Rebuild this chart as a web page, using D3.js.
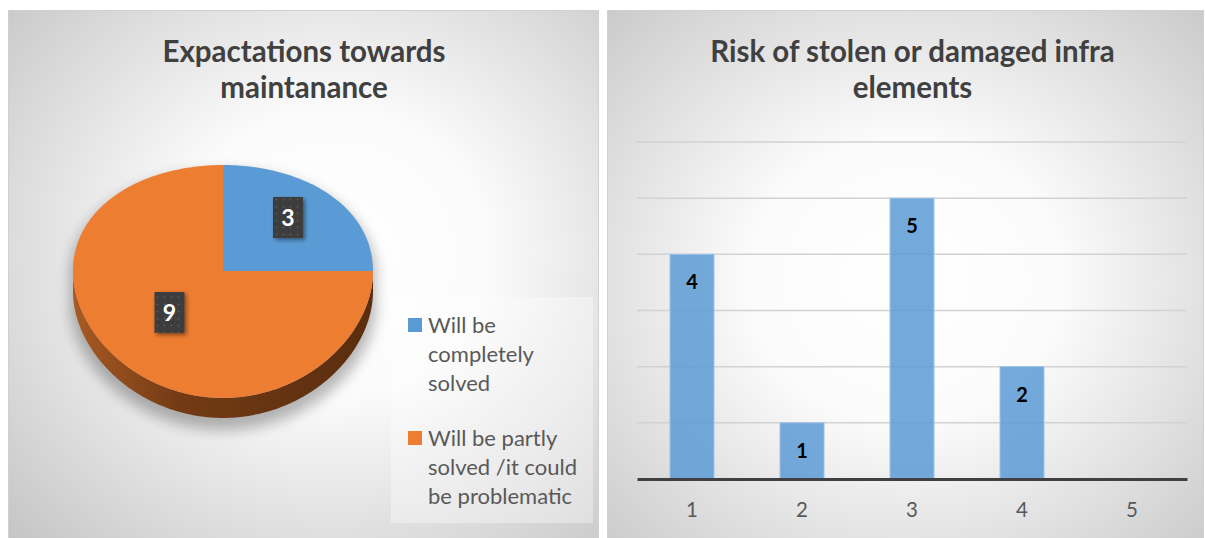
<!DOCTYPE html>
<html><head><meta charset="utf-8">
<script src="https://cdn.jsdelivr.net/npm/d3@7"></script>
<style>html,body{margin:0;padding:0;background:#fff;} svg{display:block;}</style>
</head><body><svg id="chart" width="1205" height="538"></svg>
<script>
// ---------- data ----------
const pieTitle = ["Expactations towards", "maintanance"];
const pieCategories = ["Will be completely solved", "Will be partly solved /it could be problematic"];
const legendLines = [["Will be", "completely", "solved"], ["Will be partly", "solved /it could", "be problematic"]];
const pieValues = [3, 9];
const pieColors = ["#5b9bd5", "#ed7d31"];

const barTitle = ["Risk of stolen or damaged infra", "elements"];
const barCategories = ["1", "2", "3", "4", "5"];
const barValues = [4, 1, 5, 2, null];
const yTicks = [0, 1, 2, 3, 4, 5, 6];

// ---------- setup ----------
const svg = d3.select("#chart");
const FONT = "Lato, 'Open Sans', sans-serif";
const defs = svg.append("defs");

function radial(id, cx, cy, r) {
  const g = defs.append("radialGradient").attr("id", id)
    .attr("cx", cx).attr("cy", cy).attr("r", r);
  g.append("stop").attr("offset", "0%").attr("stop-color", "#ffffff");
  g.append("stop").attr("offset", "35%").attr("stop-color", "#fbfbfb");
  g.append("stop").attr("offset", "100%").attr("stop-color", "#c6c6c6");
}
radial("bgL", "55%", "45%", "75%");
radial("bgR", "50%", "50%", "75%");

const blur = defs.append("filter").attr("id", "blur").attr("x", "-30%").attr("y", "-30%").attr("width", "160%").attr("height", "160%");
blur.append("feGaussianBlur").attr("stdDeviation", 7);

const dshadow = defs.append("filter").attr("id", "dshadow").attr("x", "-40%").attr("y", "-40%").attr("width", "180%").attr("height", "180%");
dshadow.append("feDropShadow").attr("dx", 2).attr("dy", 2).attr("stdDeviation", 2).attr("flood-color", "#000").attr("flood-opacity", 0.45);

const dots = defs.append("pattern").attr("id", "dots").attr("width", 7).attr("height", 7).attr("patternUnits", "userSpaceOnUse");
dots.append("rect").attr("width", 7).attr("height", 7).attr("fill", "#3c3c3c");
dots.append("circle").attr("cx", 3.5).attr("cy", 3.5).attr("r", 0.9).attr("fill", "#5a5a5a");

const sideGrad = defs.append("linearGradient").attr("id", "sideGrad")
  .attr("gradientUnits", "userSpaceOnUse").attr("x1", 73).attr("x2", 373).attr("y1", 0).attr("y2", 0);
sideGrad.append("stop").attr("offset", "0%").attr("stop-color", "#a85a22");
sideGrad.append("stop").attr("offset", "35%").attr("stop-color", "#733b15");
sideGrad.append("stop").attr("offset", "100%").attr("stop-color", "#5a2d0e");

// panels
svg.append("rect").attr("x", 8.5).attr("y", 10.5).attr("width", 590).attr("height", 540)
  .attr("fill", "url(#bgL)").attr("stroke", "#d0d0d0");
svg.append("rect").attr("x", 607.5).attr("y", 10.5).attr("width", 596).attr("height", 540)
  .attr("fill", "url(#bgR)").attr("stroke", "#d0d0d0");

// ---------- LEFT: pie ----------
const gL = svg.append("g");
gL.selectAll("text.title").data(pieTitle).join("text")
  .attr("x", 304).attr("y", (d, i) => 62 + i * 36)
  .attr("text-anchor", "middle").attr("font-family", FONT).attr("font-weight", "bold")
  .attr("font-size", 29.5).attr("fill", "#404040").text(d => d);

const cx = 223, cy = 271, RX = 150, A = 115.5, B = 0.09, DEPTH = 20;
function proj(theta, r, dz) {
  const u = r * Math.sin(theta), v = -r * Math.cos(theta);
  return [cx + RX * u, cy + A * v / (1 - B * v) + (dz || 0)];
}
const line = d3.line();
function arcPoints(a0, a1, dz) {
  const n = Math.max(2, Math.ceil((a1 - a0) / 0.02));
  return d3.range(n + 1).map(i => proj(a0 + (a1 - a0) * i / n, 1, dz));
}

const pie = d3.pie().sort(null).value(d => d);
const arcs = pie(pieValues);

// shadow
gL.append("path")
  .attr("d", line(arcPoints(0, 2 * Math.PI, 0).concat(arcPoints(0, 2 * Math.PI, DEPTH + 6))))
  .attr("fill", "#000").attr("opacity", 0.28).attr("filter", "url(#blur)")
  .attr("transform", "translate(0,6) scale(1.02,1)").attr("transform-origin", "223 290");

// sides (front half: theta in [PI/2, 3PI/2])
arcs.forEach((a, i) => {
  const s = Math.max(a.startAngle, Math.PI / 2), e = Math.min(a.endAngle, 3 * Math.PI / 2);
  if (e <= s) return;
  const top = arcPoints(s, e, 0), bottom = arcPoints(s, e, DEPTH).reverse();
  gL.append("path").attr("d", line(top.concat(bottom)) + "Z").attr("fill", "url(#sideGrad)");
});

// top faces
gL.selectAll("path.slice").data(arcs).join("path").attr("class", "slice")
  .attr("d", a => line([[cx, cy]].concat(arcPoints(a.startAngle, a.endAngle, 0))) + "Z")
  .attr("fill", (a, i) => pieColors[i]);

// data labels
const labelPos = [[288, 217.5], [169.5, 312.5]];
arcs.forEach((a, i) => {
  const [x, y] = labelPos[i];
  const g = gL.append("g");
  g.append("rect").attr("x", x - 15).attr("y", y - 20.5).attr("width", 30).attr("height", 41)
    .attr("fill", "url(#dots)").attr("filter", "url(#dshadow)");
  g.append("text").attr("x", x).attr("y", y + 8).attr("text-anchor", "middle")
    .attr("font-family", FONT).attr("font-weight", "bold").attr("font-size", 23)
    .attr("fill", "#fff").text(a.data);
});

// legend
gL.append("rect").attr("x", 391).attr("y", 297).attr("width", 202).attr("height", 226)
  .attr("fill", "#ffffff").attr("opacity", 0.35);
legendLines.forEach((lines, i) => {
  const y0 = 325 + i * 113;
  gL.append("rect").attr("x", 408).attr("y", y0 - 7).attr("width", 14).attr("height", 14).attr("fill", pieColors[i]);
  gL.selectAll(null).data(lines).join("text")
    .attr("x", 428).attr("y", (d, j) => y0 + 8 + j * 29)
    .attr("font-family", FONT).attr("font-size", 22).attr("fill", "#595959").text(d => d);
});

// ---------- RIGHT: bars ----------
const gR = svg.append("g");
gR.selectAll("text.title").data(barTitle).join("text")
  .attr("x", 912.5).attr("y", (d, i) => 62 + i * 36)
  .attr("text-anchor", "middle").attr("font-family", FONT).attr("font-weight", "bold")
  .attr("font-size", 29.5).attr("fill", "#404040").text(d => d);

const x = d3.scaleBand().domain(barCategories).range([637, 1187]).paddingInner(0.6).paddingOuter(0.3);
const y = d3.scaleLinear().domain([0, 6]).range([479, 142]);

gR.selectAll("line.grid").data(yTicks.filter(t => t > 0)).join("line")
  .attr("x1", 637).attr("x2", 1187).attr("y1", d => y(d)).attr("y2", d => y(d))
  .attr("stroke", "#d2d2d2").attr("stroke-width", 1.5);

const barData = barCategories.map((c, i) => ({ c, v: barValues[i] })).filter(d => d.v != null && d.v > 0);
gR.selectAll("rect.bar").data(barData).join("rect")
  .attr("x", d => x(d.c)).attr("width", x.bandwidth())
  .attr("y", d => y(d.v)).attr("height", d => y(0) - y(d.v))
  .attr("fill", "#5b9bd5").attr("fill-opacity", 0.85)
  .attr("stroke", "#9cc3e6").attr("stroke-width", 1);

gR.selectAll("text.val").data(barData).join("text")
  .attr("x", d => x(d.c) + x.bandwidth() / 2).attr("y", d => y(d.v) + 35)
  .attr("text-anchor", "middle").attr("font-family", FONT).attr("font-weight", "bold")
  .attr("font-size", 20).attr("fill", "#000").text(d => d.v);

const xAxis = d3.axisBottom(x).tickSize(0).tickPadding(23);
const ax = gR.append("g").attr("transform", "translate(0,479)").call(xAxis);
ax.select(".domain").attr("stroke", "#404040").attr("stroke-width", 3);
ax.selectAll("text").attr("font-family", FONT).attr("font-size", 20.5).attr("fill", "#595959");
</script></body></html>
